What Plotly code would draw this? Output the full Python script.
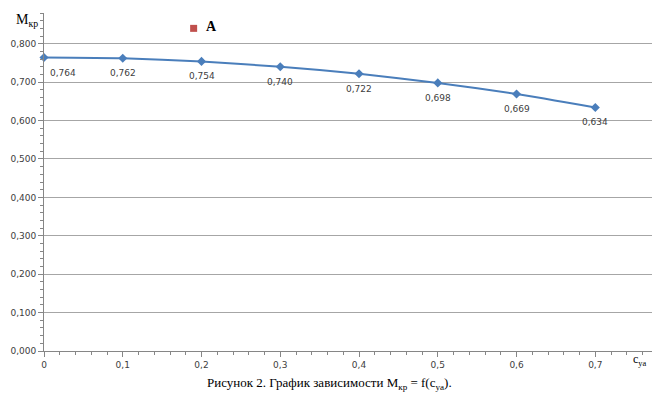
import plotly.graph_objects as go

# Data
cya = [0, 0.1, 0.2, 0.3, 0.4, 0.5, 0.6, 0.7]
m_kr = [0.764, 0.762, 0.754, 0.740, 0.722, 0.698, 0.669, 0.634]
point_a_x = [0.19]
point_a_y = [0.84]
point_a_label = ["A"]
labels = [f"{v:.3f}".replace(".", ",") for v in m_kr]

blue = "#4A7EBB"
fig = go.Figure()
fig.add_trace(go.Scatter(
    x=cya, y=m_kr, mode="lines+markers",
    line=dict(color=blue, width=2, shape="spline", smoothing=0.6),
    marker=dict(symbol="diamond", size=7, color=blue),
    cliponaxis=False, showlegend=False,
))
fig.add_trace(go.Scatter(
    x=point_a_x, y=point_a_y, mode="markers",
    marker=dict(symbol="square", size=7, color="#C0504D"),
    cliponaxis=False, showlegend=False,
))

# data labels below points
for i, (xv, yv, t) in enumerate(zip(cya, m_kr, labels)):
    fig.add_annotation(
        x=xv, y=yv, text=t, showarrow=False,
        xshift=19 if i == 0 else 0, yshift=-15,
        font=dict(family="DejaVu Sans", size=9, color="#404040"),
    )
for xv, yv, t in zip(point_a_x, point_a_y, point_a_label):
    fig.add_annotation(
        x=xv, y=yv, text="<b>" + t + "</b>", showarrow=False,
        xanchor="left", xshift=10, yshift=2,
        font=dict(family="Liberation Serif", size=14, color="#000000"),
    )

axis_common = dict(
    showline=True, linecolor="#868686", linewidth=1,
    ticks="outside", ticklen=5, tickcolor="#868686",
    tickfont=dict(family="DejaVu Sans", size=9, color="#404040"),
    zeroline=False,
)
fig.update_xaxes(
    range=[0, 0.772], dtick=0.1, tick0=0, tickformat=".1~f", showgrid=False,
    minor=dict(ticks="outside", ticklen=3, dtick=0.02, tickcolor="#868686"),
    **axis_common,
)
fig.update_yaxes(
    range=[0, 0.88], dtick=0.1, tick0=0, tickformat=".3f",
    showgrid=True, gridcolor="#A6A6A6", gridwidth=1,
    minor=dict(ticks="outside", ticklen=3, dtick=0.02, tickcolor="#868686"),
    **axis_common,
)

fig.add_annotation(
    xref="paper", yref="paper", x=-0.05, y=1.0, xanchor="left", yanchor="middle",
    text="M<sub>кр</sub>", showarrow=False,
    font=dict(family="Liberation Serif", size=14, color="#000000"), yshift=-7,
)
fig.add_annotation(
    xref="paper", yref="paper", x=0.965, y=0.0, xanchor="left", yanchor="middle",
    text="c<sub>ya</sub>", showarrow=False,
    font=dict(family="Liberation Serif", size=12, color="#000000"), yshift=-9,
)
fig.add_annotation(
    xref="paper", yref="paper", x=0.47, y=-0.095, xanchor="center", yanchor="middle",
    text="Рисунок 2. График зависимости M<sub>кр</sub> = f(c<sub>ya</sub>).",
    showarrow=False,
    font=dict(family="Liberation Serif", size=13, color="#000000"),
)

fig.update_layout(
    width=662, height=411,
    margin=dict(l=44, r=10, t=13, b=60),
    paper_bgcolor="white", plot_bgcolor="white",
    separators=", ",
)
fig.write_html("out.html")
